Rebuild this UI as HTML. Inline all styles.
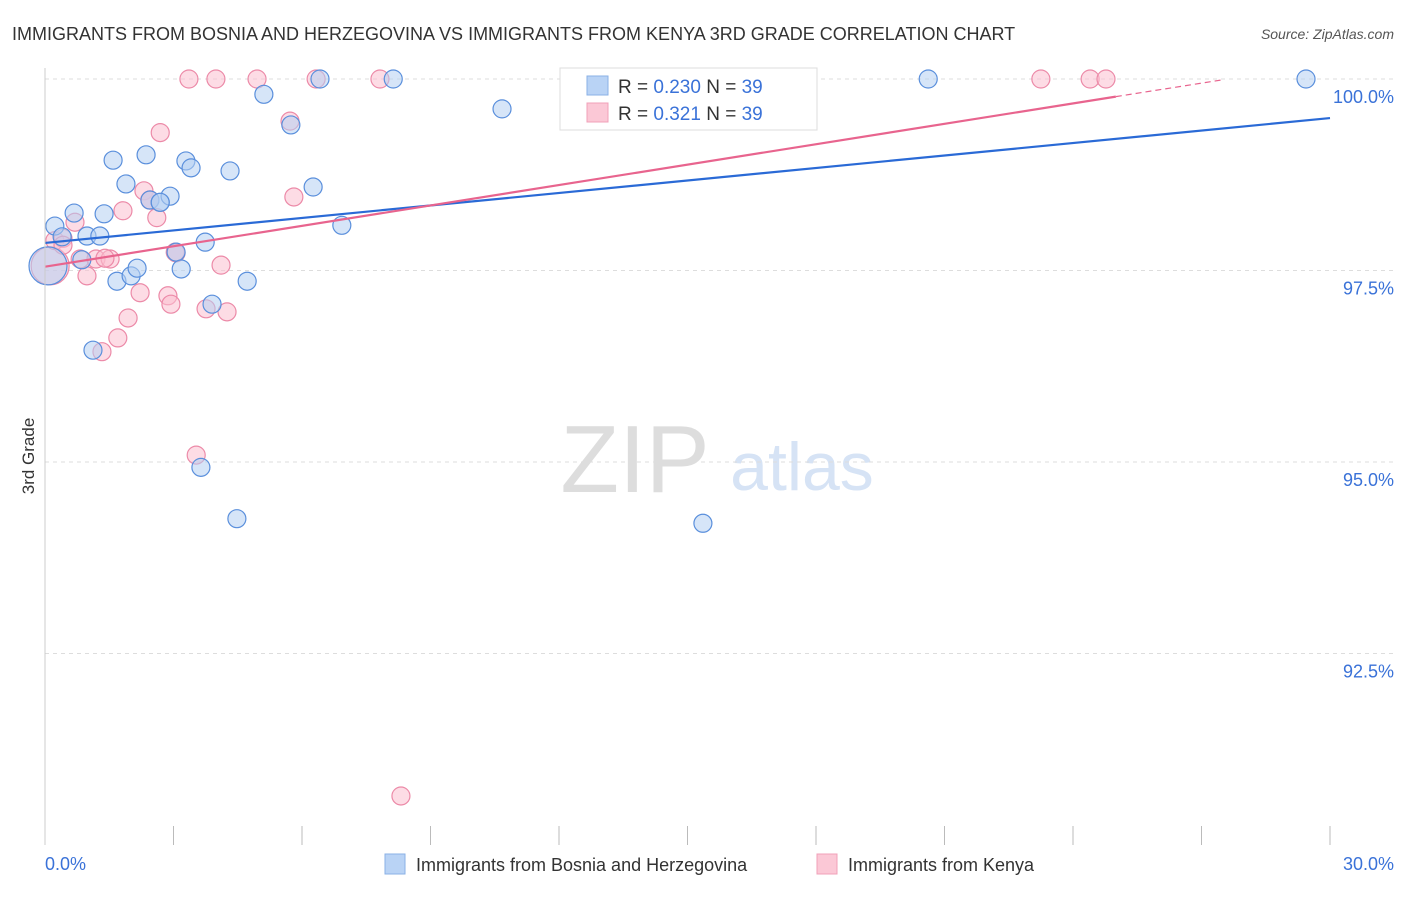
<!DOCTYPE html>
<html><head><meta charset="utf-8"><style>
body{margin:0;background:#fff;font-family:"Liberation Sans",sans-serif}
svg text{font-family:"Liberation Sans",sans-serif}
</style></head><body>
<svg id="c" width="1406" height="892">
<text x="12" y="40" font-size="18" fill="#333">IMMIGRANTS FROM BOSNIA AND HERZEGOVINA VS IMMIGRANTS FROM KENYA 3RD GRADE CORRELATION CHART</text>
<text x="1394" y="39" font-size="14" fill="#555" text-anchor="end" font-style="italic">Source: ZipAtlas.com</text>
<text x="34" y="456" font-size="17" fill="#333" text-anchor="middle" transform="rotate(-90 34 456)">3rd Grade</text>
<text x="635" y="492" font-size="96" fill="#ddd" text-anchor="middle" font-family="Liberation Serif">ZIP</text>
<text x="802" y="490" font-size="68" fill="#d6e3f5" text-anchor="middle">atlas</text>
<g id="grid"></g><g id="ticks"></g><g id="pts"></g><g id="trend"></g>
<line x1="45" y1="68" x2="45" y2="845" stroke="#ccc"/>
<g>
<rect x="560" y="68" width="257" height="62" fill="#fff" stroke="#ddd"/>
<rect x="587" y="76" width="21" height="19" fill="#b9d3f5" stroke="#8ab0e6"/>
<rect x="587" y="103" width="21" height="19" fill="#fbc8d6" stroke="#f0a0b8"/>
<text x="618" y="93" font-size="19" fill="#333">R = <tspan fill="#3a72d8">0.230</tspan>   N = <tspan fill="#3a72d8">39</tspan></text>
<text x="618" y="120" font-size="19" fill="#333">R =  <tspan fill="#3a72d8">0.321</tspan>   N = <tspan fill="#3a72d8">39</tspan></text>
</g>
<text x="45" y="870" font-size="18" fill="#3a72d8">0.0%</text>
<text x="1394" y="870" font-size="18" fill="#3a72d8" text-anchor="end">30.0%</text>
<g>
<rect x="385" y="854" width="20" height="20" fill="#b9d3f5" stroke="#8ab0e6"/>
<text x="416" y="871" font-size="18" fill="#333">Immigrants from Bosnia and Herzegovina</text>
<rect x="817" y="854" width="20" height="20" fill="#fbc8d6" stroke="#f0a0b8"/>
<text x="848" y="871" font-size="18" fill="#333">Immigrants from Kenya</text>
</g>
</svg>
<script>
const blueX=[0.23,0.40,0.68,0.98,1.28,1.38,1.59,1.68,1.89,2.01,2.15,2.36,2.45,2.69,2.92,3.06,3.18,3.29,3.41,3.74,3.90,4.32,4.72,5.11,5.74,6.26,6.42,6.93,8.13,10.67,15.36,20.62,29.44,1.12,3.64,4.48,0.86,0.07,2.69];
const blueY=[98.08,97.94,98.25,97.95,97.95,98.24,98.94,97.36,98.63,97.43,97.53,99.01,98.42,98.39,98.47,97.74,97.52,98.93,98.84,97.87,97.06,98.80,97.36,99.80,99.40,98.59,100,98.09,100,99.61,94.20,100,100,96.46,94.93,94.26,97.64,97.56,98.39];
const pinkX=[0.12,0.23,0.42,0.70,0.82,0.98,1.19,1.33,1.52,1.70,1.82,1.94,2.22,2.31,2.45,2.61,2.69,2.87,2.94,3.04,3.36,3.53,3.76,3.99,4.11,4.25,4.95,5.72,5.81,6.33,7.82,8.31,23.25,24.40,24.77,1.40,0.42,3.06,2.45];
const pinkY=[97.56,97.89,97.92,98.13,97.65,97.43,97.65,96.44,97.65,96.62,98.28,96.88,97.21,98.54,98.42,98.19,99.30,97.17,97.06,97.74,100,95.09,97.00,100,97.57,96.96,100,99.45,98.46,100,100,90.64,100,100,100,97.66,97.83,97.73,98.42];
const yTicks=[100,97.5,95,92.5];
const yTickLabels=["100.0%","97.5%","95.0%","92.5%"];
const xTicks=[0,3,6,9,12,15,18,21,24,27,30];
const blueTrend=[[0,97.86],[30,99.49]];
const pinkTrend=[[0,97.55],[25,99.77]];
const pinkTrendDash=[[25,99.77],[27.5,99.99]];
const sx=v=>45+v*(1285/30);
const sy=v=>79+(100-v)*76.6;
const NS="http://www.w3.org/2000/svg";
function mk(tag,attrs,parent){const e=document.createElementNS(NS,tag);for(const k in attrs)e.setAttribute(k,attrs[k]);document.getElementById(parent).appendChild(e);return e;}
yTicks.forEach((t,i)=>{
 const l=mk('line',{x1:45,x2:1394,y1:sy(t),y2:sy(t),stroke:'#ddd','stroke-dasharray':'4,4'},'grid');
 
 
 const tx=mk('text',{x:1394,y:sy(t)+24,'font-size':18,fill:'#3a72d8','text-anchor':'end'},'grid');
 tx.textContent=yTickLabels[i];
 
 
});
xTicks.forEach(t=>{
 const l=mk('line',{x1:sx(t),x2:sx(t),y1:826,y2:845,stroke:'#bbb'},'ticks');
 
 
});
function pts(X,Y,fill,stroke,name){
 X.forEach((x,i)=>{
  const big=(x<0.15);
  const c=mk('circle',{cx:sx(x),cy:sy(Y[i]),r:big?19:9,fill:fill,'fill-opacity':0.55,stroke:stroke,'stroke-width':1.2},'pts');
  
  
 });
}
pts(pinkX,pinkY,'#fbc0d0','#ec8aa8','kenya-point');
pts(blueX,blueY,'#b4cff3','#5a8fdc','bosnia-point');
function line(a,color,dash,name){
 const l=mk('line',{x1:sx(a[0][0]),y1:sy(a[0][1]),x2:sx(a[1][0]),y2:sy(a[1][1]),stroke:color,'stroke-width':dash?1.2:2.2},'trend');
 if(dash)l.setAttribute('stroke-dasharray','6,4');
 
 
}
line(blueTrend,'#2a6ad6',false,'bosnia-trend-line');
line(pinkTrend,'#e8648e',false,'kenya-trend-line');
line(pinkTrendDash,'#e8648e',true,'kenya-trend-extension');
</script>
</body></html>
